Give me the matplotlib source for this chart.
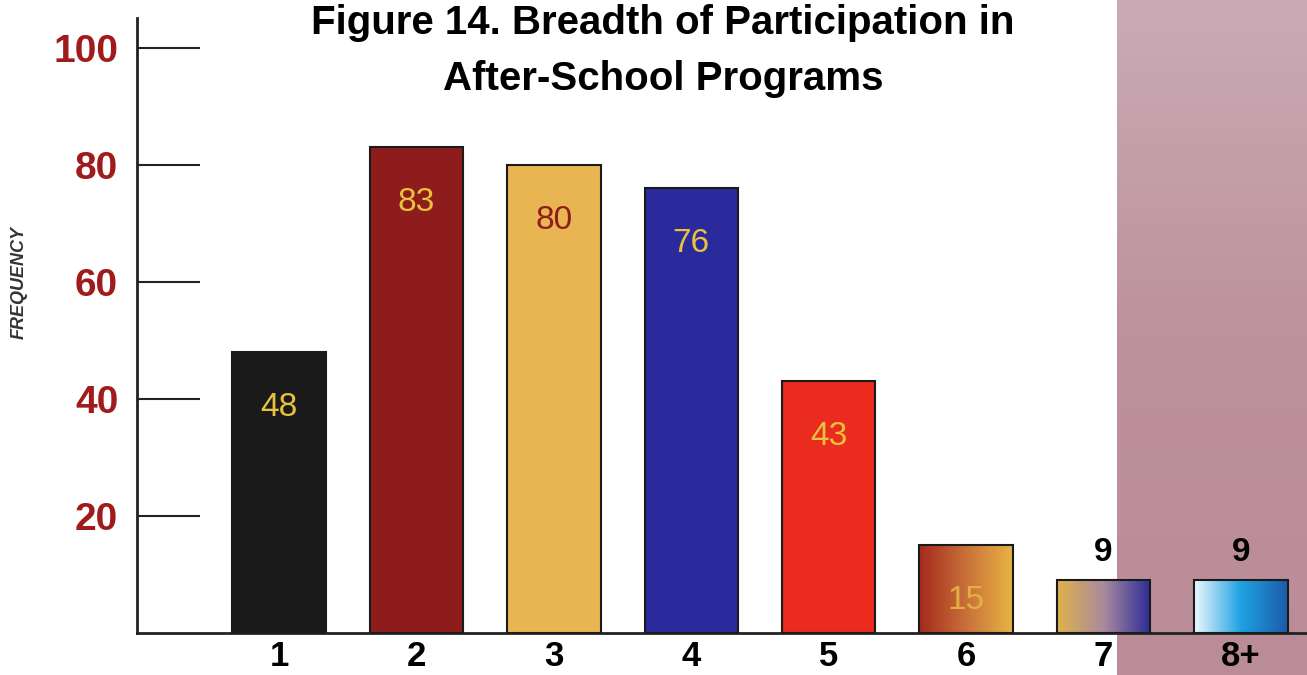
import numpy as np
import matplotlib
matplotlib.use("Agg")
import matplotlib.pyplot as plt
from matplotlib.colors import LinearSegmentedColormap

# data
categories = ["1", "2", "3", "4", "5", "6", "7", "8+"]
frequency = [48, 83, 80, 76, 43, 15, 9, 9]
yticks = [20, 40, 60, 80, 100]

plt.rcParams["font.family"] = ["Liberation Sans", "DejaVu Sans"]

bar_colors = ["#1b1a1a", "#8e1c1c", "#e9b552", "#2b2a9c", "#ea2b1e", None, None, None]
gradients = {
    5: ["#a42a1c", "#c8703a", "#e9b443"],
    6: ["#e0b24a", "#a88a9e", "#2c2c98"],
    7: ["#eef8ff", "#1ea2e2", "#1c5aa8"],
}
label_colors = ["#e8c23e", "#e8c23e", "#8e1c1c", "#e8c23e", "#e8c23e", "#e0b040", "black", "black"]

fig = plt.figure(figsize=(13.07, 6.75), dpi=100)

# pink band on the right
bg = fig.add_axes([1117 / 1307, 0, 1 - 1117 / 1307, 1], zorder=0)
band = LinearSegmentedColormap.from_list("band", ["#caabb5", "#bd919d", "#ba8c98"])
bg.imshow(np.linspace(0, 1, 256).reshape(-1, 1), aspect="auto", cmap=band,
          extent=[0, 1, 0, 1])
bg.axis("off")

ax = fig.add_axes([137 / 1307, 42 / 675, 1 - 137 / 1307, (633 - 18) / 675], zorder=1)
ax.patch.set_alpha(0)

x = np.arange(len(categories))
bars = ax.bar(x, frequency, width=0.68, color=[c if c else "none" for c in bar_colors],
              edgecolor="#1a1a1a", linewidth=1.5, zorder=3)

for i, cols in gradients.items():
    b = bars[i]
    cmap = LinearSegmentedColormap.from_list("g%d" % i, cols)
    im = ax.imshow(np.linspace(0, 1, 256).reshape(1, -1), cmap=cmap, aspect="auto",
                   extent=[b.get_x(), b.get_x() + b.get_width(), 0, b.get_height()],
                   zorder=2)
    im.set_clip_path(b)

for i, v in enumerate(frequency):
    if v < 10:
        ax.text(i, v + 4.7, str(v), ha="center", va="center", fontsize=24,
                fontweight="bold", color="black", zorder=4)
    else:
        ax.text(i, v - 9.5, str(v), ha="center", va="center", fontsize=24,
                color=label_colors[i], zorder=4)

ax.set_xlim(-1.033, 7.48)
ax.set_ylim(0, 105.1)
ax.set_xticks(x)
ax.set_xticklabels(categories, fontsize=25, fontweight="bold")
ax.set_yticks(yticks)
ax.set_yticklabels([str(t) for t in yticks], fontsize=28, fontweight="bold",
                   color="#a01c1c")
ax.tick_params(axis="y", direction="in", length=45, width=1.5, color="#222222", pad=13.5)
ax.tick_params(axis="x", length=0, pad=5)
for s in ["top", "right"]:
    ax.spines[s].set_visible(False)
ax.spines["left"].set_linewidth(2)
ax.spines["left"].set_color("#222222")
ax.spines["bottom"].set_linewidth(2)
ax.spines["bottom"].set_color("#222222")

fig.text(0.015, 0.582, "FREQUENCY", rotation=90, ha="center", va="center",
         fontsize=13, fontstyle="italic", fontweight="bold", color="#333333")

fig.text(663 / 1307, 0.994, "Figure 14. Breadth of Participation in\nAfter-School Programs",
         ha="center", va="top", fontsize=29, fontweight="bold", linespacing=1.6,
         color="black", zorder=5)

fig.savefig("out.png", dpi=100)
